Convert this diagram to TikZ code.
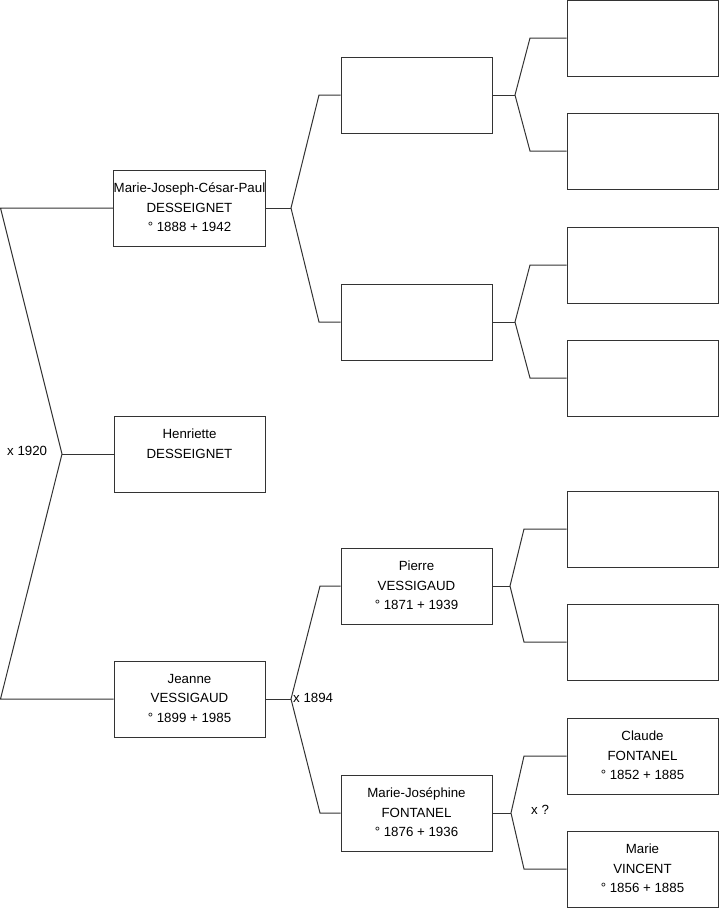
\documentclass[tikz,border=0pt]{standalone}
\usepackage{fontspec}
\setmainfont{Liberation Sans}
\definecolor{ln}{HTML}{333333}
\begin{document}
\begin{tikzpicture}[x=1pt,y=-1pt,
  person/.style={draw=ln,line width=1pt,rectangle,minimum width=151pt,minimum height=76pt,inner sep=0pt,align=center,font=\fontsize{13.3}{19.5}\selectfont},
  link/.style={draw=ln,line width=1pt},
  lbl/.style={font=\fontsize{13.3}{16}\selectfont,inner sep=0pt}]
\useasboundingbox (0,0) rectangle (719,908);
% column 1
\node[person] (mjcp) at (189.5,208) {Marie-Joseph-César-Paul\\DESSEIGNET\\° 1888 + 1942\rule[-1.5pt]{0pt}{0pt}};
\node[person] (hd) at (189.5,454) {Henriette\\DESSEIGNET\\~\rule[-1.5pt]{0pt}{0pt}};
\node[person] (jv) at (189.5,699) {Jeanne\\VESSIGAUD\\° 1899 + 1985\rule[-1.5pt]{0pt}{0pt}};
% column 2
\node[person] (b1) at (416.5,95) {};
\node[person] (b2) at (416.5,322) {};
\node[person] (pv) at (416.5,586) {Pierre\\VESSIGAUD\\° 1871 + 1939\rule[-1.5pt]{0pt}{0pt}};
\node[person] (mjf) at (416.5,813) {Marie-Joséphine\\FONTANEL\\° 1876 + 1936\rule[-1.5pt]{0pt}{0pt}};
% column 3
\node[person] (c1) at (642.5,38) {};
\node[person] (c2) at (642.5,151) {};
\node[person] (c3) at (642.5,265) {};
\node[person] (c4) at (642.5,378) {};
\node[person] (c5) at (642.5,529) {};
\node[person] (c6) at (642.5,642) {};
\node[person] (cf) at (642.5,756) {Claude\\FONTANEL\\° 1852 + 1885\rule[-1.5pt]{0pt}{0pt}};
\node[person] (mv) at (642.5,869) {Marie\\VINCENT\\° 1856 + 1885\rule[-1.5pt]{0pt}{0pt}};
% left connectors
\coordinate (L1) at (0.5,208);
\coordinate (L2) at (0.5,699);
\coordinate (vh) at (62,454);
\draw[link] (mjcp.west) -- (L1) -- (vh) -- (L2) -- (jv.west);
\draw[link] (vh) -- (hd.west);
\node[lbl,anchor=west] (m1920) at (7,451) {x 1920};
% mjcp parents
\coordinate (v1) at (291,208);
\coordinate (v1a) at (319,95);
\coordinate (v1b) at (319,322);
\draw[link] (mjcp.east) -- (v1);
\draw[link] (b1.west) -- (v1a) -- (v1) -- (v1b) -- (b2.west);
% jv parents
\coordinate (v2) at (291,699);
\coordinate (v2a) at (320,586);
\coordinate (v2b) at (320,813);
\draw[link] (jv.east) -- (v2);
\draw[link] (pv.west) -- (v2a) -- (v2) -- (v2b) -- (mjf.west);
\node[lbl,anchor=west] (m1894) at (293,698) {x 1894};
% b1 parents
\coordinate (v3) at (515,95);
\coordinate (v3a) at (530,38);
\coordinate (v3b) at (530,151);
\draw[link] (b1.east) -- (v3);
\draw[link] (c1.west) -- (v3a) -- (v3) -- (v3b) -- (c2.west);
% b2 parents
\coordinate (v4) at (515,322);
\coordinate (v4a) at (530,265);
\coordinate (v4b) at (530,378);
\draw[link] (b2.east) -- (v4);
\draw[link] (c3.west) -- (v4a) -- (v4) -- (v4b) -- (c4.west);
% pv parents
\coordinate (v5) at (510,586);
\coordinate (v5a) at (524,529);
\coordinate (v5b) at (524,642);
\draw[link] (pv.east) -- (v5);
\draw[link] (c5.west) -- (v5a) -- (v5) -- (v5b) -- (c6.west);
% mjf parents
\coordinate (v6) at (511,813);
\coordinate (v6a) at (524,756);
\coordinate (v6b) at (524,869);
\draw[link] (mjf.east) -- (v6);
\draw[link] (cf.west) -- (v6a) -- (v6) -- (v6b) -- (mv.west);
\node[lbl,anchor=west] (mq) at (531,810) {x ?};
\end{tikzpicture}
\end{document}
